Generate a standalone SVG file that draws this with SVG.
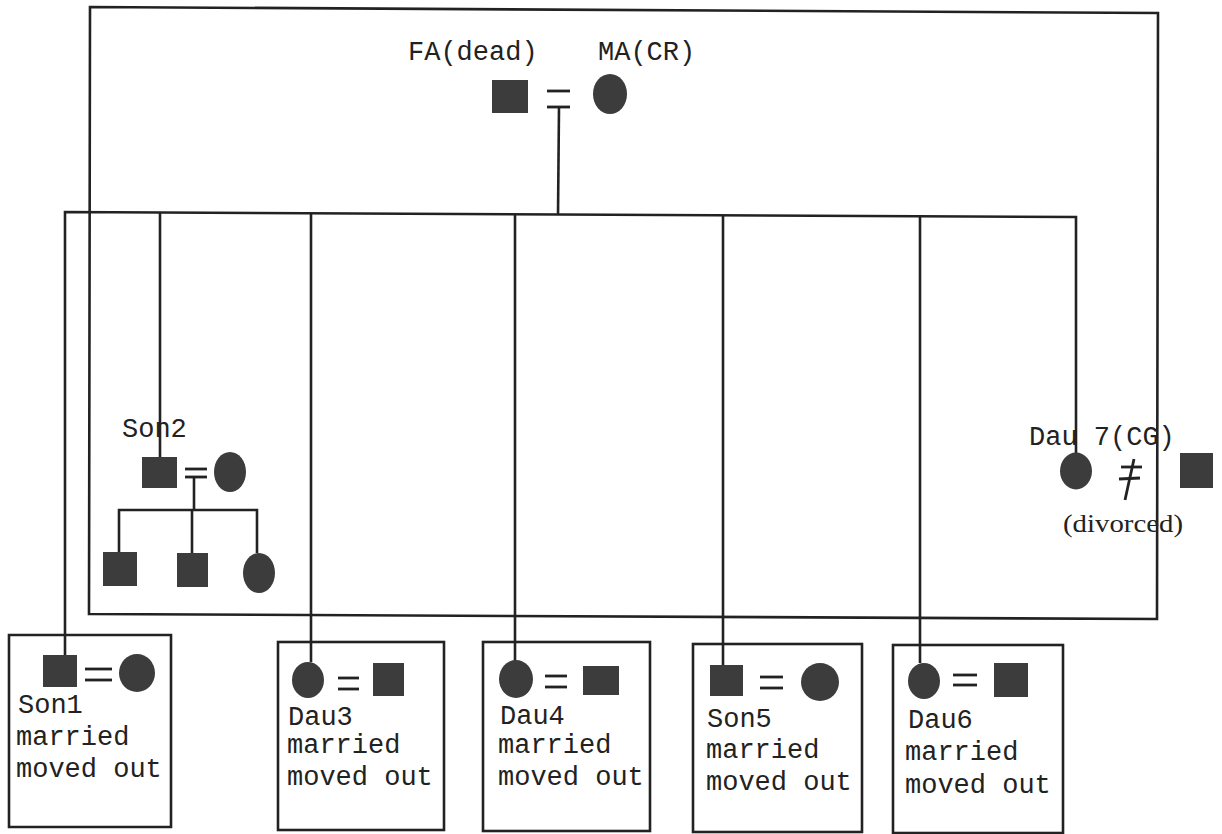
<svg xmlns="http://www.w3.org/2000/svg" width="1222" height="834" viewBox="0 0 1222 834">
<style>
.ln{stroke:#222;stroke-width:2.6;fill:none}
.bx{stroke:#222;stroke-width:2.6;fill:none}
.m{fill:#3c3c3c}
.f{fill:#3c3c3c}
.t{font-family:"Liberation Mono","Courier New",monospace;font-size:27px;fill:#222}
.s{font-family:"Liberation Serif","Times New Roman",serif;font-size:25px;fill:#222}
.eq{stroke:#222;stroke-width:2.8}
</style>
<rect width="1222" height="834" fill="#fff"/>
<g id="household">
<polygon class="bx" points="90,7 1158,13 1157,619 89,614"/>
</g>
<g id="connectors">
<polyline class="ln" points="65,655 65,212 1076,217 1076,453"/>
<line class="ln" x1="559" y1="107" x2="558" y2="215"/>
<line class="ln" x1="160" y1="213" x2="160" y2="457"/>
<line class="ln" x1="311" y1="214" x2="311" y2="662"/>
<line class="ln" x1="515" y1="215" x2="515" y2="661"/>
<line class="ln" x1="723" y1="215" x2="723" y2="665"/>
<line class="ln" x1="920" y1="216" x2="920" y2="663"/>
<line class="ln" x1="194" y1="477" x2="194" y2="510"/>
<polyline class="ln" points="119,552 119,510 257,510 257,553"/>
<line class="ln" x1="192" y1="510" x2="192" y2="553"/>
</g>
<g id="parents">
<text class="t" x="408" y="60">FA(dead)</text>
<text class="t" x="598" y="60">MA(CR)</text>
<rect class="f" x="492" y="80" width="36" height="33"/>
<line class="eq" x1="547" y1="91" x2="570" y2="91"/>
<line class="eq" x1="547" y1="107" x2="570" y2="107"/>
<ellipse class="m" cx="610" cy="94" rx="17" ry="20"/>
</g>
<g id="son2">
<text class="t" x="122" y="437">Son2</text>
<rect class="f" x="142" y="457" width="35" height="31"/>
<line class="eq" x1="185" y1="469" x2="207" y2="469"/>
<line class="eq" x1="185" y1="477" x2="207" y2="477"/>
<ellipse class="m" cx="230" cy="472" rx="16" ry="20"/>
<rect class="f" x="103" y="552" width="34" height="34"/>
<rect class="f" x="177" y="553" width="31" height="34"/>
<ellipse class="m" cx="259" cy="573" rx="16" ry="20"/>
</g>
<g id="dau7">
<text class="t" x="1029" y="445">Dau 7(CG)</text>
<ellipse class="m" cx="1076" cy="471" rx="16" ry="18.5"/>
<line class="eq" x1="1121" y1="467" x2="1142" y2="467"/>
<line class="eq" x1="1119" y1="479" x2="1140" y2="478"/>
<line class="eq" x1="1134" y1="459" x2="1125" y2="500"/>
<rect class="f" x="1180" y="453" width="33" height="35"/>
<text class="s" x="1063" y="532" textLength="120" lengthAdjust="spacingAndGlyphs">(divorced)</text>
</g>
<g id="son1">
<polygon class="bx" points="9,635 171,635 171,827 9,827"/>
<rect class="f" x="43" y="655" width="34" height="32"/>
<line class="eq" x1="85" y1="669" x2="112" y2="669"/>
<line class="eq" x1="85" y1="680" x2="112" y2="680"/>
<ellipse class="m" cx="137" cy="673" rx="18" ry="19"/>
<text class="t" x="18" y="713">Son1</text>
<text class="t" x="16" y="745">married</text>
<text class="t" x="16" y="777">moved out</text>
</g>
<g id="dau3">
<rect class="bx" x="278" y="642" width="166" height="188"/>
<ellipse class="m" cx="308" cy="680" rx="16" ry="18"/>
<line class="eq" x1="338" y1="678" x2="359" y2="678"/>
<line class="eq" x1="338" y1="689" x2="359" y2="689"/>
<rect class="f" x="373" y="663" width="31" height="33"/>
<text class="t" x="288" y="725">Dau3</text>
<text class="t" x="287" y="753">married</text>
<text class="t" x="287" y="785">moved out</text>
</g>
<g id="dau4">
<rect class="bx" x="483" y="642" width="167" height="189"/>
<ellipse class="m" cx="516" cy="679" rx="17" ry="19"/>
<line class="eq" x1="545" y1="676" x2="567" y2="676"/>
<line class="eq" x1="545" y1="687" x2="567" y2="687"/>
<rect class="f" x="583" y="666" width="36" height="29"/>
<text class="t" x="500" y="724">Dau4</text>
<text class="t" x="498" y="753">married</text>
<text class="t" x="498" y="785">moved out</text>
</g>
<g id="son5">
<rect class="bx" x="693" y="644" width="169" height="188"/>
<rect class="f" x="710" y="665" width="33" height="31"/>
<line class="eq" x1="760" y1="677" x2="783" y2="677"/>
<line class="eq" x1="760" y1="688" x2="783" y2="688"/>
<ellipse class="m" cx="820" cy="682" rx="19" ry="19"/>
<text class="t" x="707" y="727">Son5</text>
<text class="t" x="706" y="758">married</text>
<text class="t" x="706" y="790">moved out</text>
</g>
<g id="dau6">
<rect class="bx" x="893" y="645" width="170" height="188"/>
<ellipse class="m" cx="924" cy="681" rx="16" ry="18"/>
<line class="eq" x1="953" y1="675" x2="977" y2="675"/>
<line class="eq" x1="953" y1="685" x2="977" y2="685"/>
<rect class="f" x="994" y="663" width="34" height="34"/>
<text class="t" x="908" y="728">Dau6</text>
<text class="t" x="905" y="760">married</text>
<text class="t" x="905" y="793">moved out</text>
</g>
</svg>
